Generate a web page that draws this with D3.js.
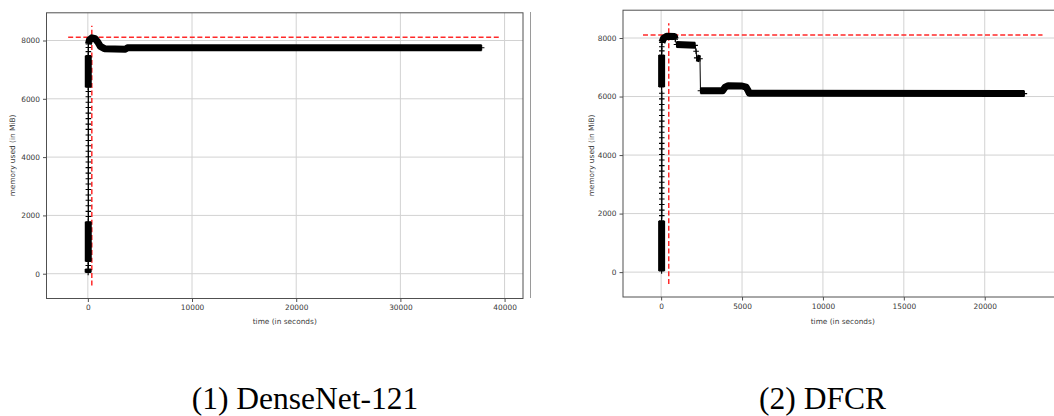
<!DOCTYPE html>
<html>
<head>
<meta charset="utf-8">
<script src="https://cdn.jsdelivr.net/npm/d3@7/dist/d3.min.js"></script>
<style>
  html, body { margin: 0; padding: 0; background: #fff; }
  svg { display: block; }
</style>
</head>
<body>
<svg id="chart" width="1054" height="416"></svg>
<script>
// ---------------- DATA ----------------
// (1) DenseNet-121 : memory used (MiB) vs time (s)
const dnTime = [30, 30, 40, 40, 40, 50, 50, 50, 50, 50, 50, 50, 50, 50, 50, 50, 50, 50, 50, 50, 50, 50, 50, 50, 50, 50, 50, 50, 50, 40, 40, 50, 50, 60, 150, 380, 700, 950, 1200, 1600, 3600, 3800, 37800];
const dnMem  = [40, 160, 280, 420, 1780, 1960, 2140, 2330, 2520, 2700, 2890, 3080, 3260, 3450, 3640, 3830, 4010, 4200, 4390, 4570, 4760, 4950, 5130, 5320, 5510, 5700, 5880, 6070, 6250, 6400, 7480, 7620, 7760, 7880, 8020, 8090, 8060, 7950, 7800, 7720, 7700, 7750, 7750];
// 1 = densely sampled from this point to the next one
const dnDense = [1, 0, 0, 1, 0, 0, 0, 0, 0, 0, 0, 0, 0, 0, 0, 0, 0, 0, 0, 0, 0, 0, 0, 0, 0, 0, 0, 0, 0, 1, 0, 0, 0, 1, 1, 1, 1, 1, 1, 1, 1, 1, 0];
const dnPeakMem = 8110;
const dnPeakTime = 380;
const dnXTicks = [0, 10000, 20000, 30000, 40000];

// (2) DFCR
const dfTime = [30, 30, 40, 40, 40, 40, 40, 40, 40, 40, 40, 40, 40, 40, 40, 40, 40, 40, 40, 40, 40, 40, 40, 40, 40, 30, 30, 40, 40, 50, 150, 350, 820, 870, 950, 2100, 2160, 2200, 2400, 2430, 3800, 3950, 4150, 5000, 5250, 5350, 5450, 22450];
const dfMem  = [40, 1750, 1930, 2120, 2310, 2500, 2690, 2880, 3070, 3260, 3450, 3640, 3830, 4020, 4210, 4400, 4590, 4780, 4970, 5160, 5350, 5540, 5730, 5920, 6110, 6330, 7420, 7560, 7700, 7850, 7990, 8060, 8050, 7960, 7780, 7750, 7550, 7320, 7290, 6200, 6200, 6320, 6370, 6360, 6320, 6230, 6110, 6100];
const dfDense = [1, 0, 0, 0, 0, 0, 0, 0, 0, 0, 0, 0, 0, 0, 0, 0, 0, 0, 0, 0, 0, 0, 0, 0, 0, 1, 0, 0, 0, 1, 1, 1, 1, 0, 1, 0, 0, 1, 0, 1, 1, 1, 1, 1, 1, 1, 1, 0];
const dfPeakMem = 8100;
const dfPeakTime = 470;
const dfXTicks = [0, 5000, 10000, 15000, 20000];

const yTicks = [0, 2000, 4000, 6000, 8000];
const captions = ["(1) DenseNet-121", "(2) DFCR"];
const xLabel = "time (in seconds)";
const yLabel = "memory used (in MiB)";

// ---------------- LAYOUT ----------------
const panels = [
  { time: dnTime, mem: dnMem, dense: dnDense, peakMem: dnPeakMem, peakTime: dnPeakTime, xTicks: dnXTicks,
    x0: 46.5, x1: 523, y0: 298.5, y1: 12.8, yLabelX: 12.5, caption: captions[0], capX: 305 },
  { time: dfTime, mem: dfMem, dense: dfDense, peakMem: dfPeakMem, peakTime: dfPeakTime, xTicks: dfXTicks,
    x0: 623, x1: 1062.5, y0: 297, y1: 10.2, yLabelX: 591.5, caption: captions[1], capX: 822.5 }
];

const svg = d3.select("#chart");
const tickFont = "DejaVu Sans, sans-serif";

// separator line between the two screenshots
svg.append("line").attr("x1", 530.5).attr("x2", 530.5).attr("y1", 12).attr("y2", 298)
  .attr("stroke", "#9a9a9a").attr("stroke-width", 1);

panels.forEach((p, pi) => {
  const maxT = d3.max(p.time);
  // dashed reference lines extents (5% beyond data), axes pad 5% beyond those
  const hx0 = -0.05 * maxT, hx1 = 1.05 * maxT;
  const vy0 = -0.05 * 8100, vy1 = 1.05 * 8100;
  const padX = 0.05 * (hx1 - hx0), padY = 0.05 * (vy1 - vy0);
  const x = d3.scaleLinear().domain([hx0 - padX, hx1 + padX]).range([p.x0, p.x1]);
  const y = d3.scaleLinear().domain([vy0 - padY, vy1 + padY]).range([p.y0, p.y1]);

  const g = svg.append("g");
  const clipId = "clip" + pi;
  svg.append("clipPath").attr("id", clipId).append("rect")
    .attr("x", p.x0).attr("y", p.y1).attr("width", p.x1 - p.x0).attr("height", p.y0 - p.y1);

  // grid
  const grid = g.append("g");
  p.xTicks.forEach(t => grid.append("line")
    .attr("x1", x(t)).attr("x2", x(t)).attr("y1", p.y0).attr("y2", p.y1)
    .attr("stroke", "#d2d2d2").attr("stroke-width", 1));
  yTicks.forEach(t => grid.append("line")
    .attr("x1", p.x0).attr("x2", p.x1).attr("y1", y(t)).attr("y2", y(t))
    .attr("stroke", "#d2d2d2").attr("stroke-width", 1));

  const plot = g.append("g").attr("clip-path", `url(#${clipId})`);

  // red dashed reference lines
  plot.append("line").attr("x1", x(hx0)).attr("x2", x(hx1)).attr("y1", y(p.peakMem)).attr("y2", y(p.peakMem))
    .attr("stroke", "#ff2a2a").attr("stroke-width", 1.5).attr("stroke-dasharray", "5,2.6");
  plot.append("line").attr("x1", x(p.peakTime)).attr("x2", x(p.peakTime)).attr("y1", y(vy0)).attr("y2", y(vy1))
    .attr("stroke", "#ff2a2a").attr("stroke-width", 1.5).attr("stroke-dasharray", "5,2.6");

  const pts = p.time.map((t, i) => ({ t, m: p.mem[i], d: p.dense[i] }));
  const line = d3.line().x(d => x(d.t)).y(d => y(d.m));

  // dense sample runs drawn as a thick band of overlapping markers
  const runs = [];
  let cur = null;
  pts.forEach((d, i) => {
    if (d.d && i < pts.length - 1) {
      if (!cur) { cur = [d]; runs.push(cur); }
      cur.push(pts[i + 1]);
    } else {
      cur = null;
    }
  });
  runs.forEach(r => plot.append("path").attr("d", line(r))
    .attr("fill", "none").attr("stroke", "#000").attr("stroke-width", 7)
    .attr("stroke-linejoin", "round").attr("stroke-linecap", "butt"));

  // thin connecting line
  plot.append("path").attr("d", line(pts)).attr("fill", "none")
    .attr("stroke", "#000").attr("stroke-width", 1);

  // '+' markers
  const ms = 2.8;
  plot.append("g").selectAll("path").data(pts).join("path")
    .attr("d", d => `M${x(d.t) - ms},${y(d.m)}H${x(d.t) + ms}M${x(d.t)},${y(d.m) - ms}V${y(d.m) + ms}`)
    .attr("stroke", "#000").attr("stroke-width", 1.1).attr("fill", "none");

  // frame
  g.append("rect").attr("x", p.x0).attr("y", p.y1).attr("width", p.x1 - p.x0).attr("height", p.y0 - p.y1)
    .attr("fill", "none").attr("stroke", "#505050").attr("stroke-width", 1);

  // axes
  const xa = g.append("g").attr("transform", `translate(0,${p.y0})`)
    .call(d3.axisBottom(x).tickValues(p.xTicks).tickFormat(d3.format("d")).tickSize(3.5).tickPadding(3));
  const ya = g.append("g").attr("transform", `translate(${p.x0},0)`)
    .call(d3.axisLeft(y).tickValues(yTicks).tickFormat(d3.format("d")).tickSize(3.5).tickPadding(3));
  [xa, ya].forEach(a => {
    a.select(".domain").remove();
    a.selectAll("line").attr("stroke", "#505050");
    a.selectAll("text").attr("font-family", tickFont).attr("font-size", 7.4).attr("fill", "#3a3a3a");
  });

  // axis labels
  g.append("text").attr("x", (p.x0 + p.x1) / 2).attr("y", 324.2).attr("text-anchor", "middle")
    .attr("font-family", tickFont).attr("font-size", 7.4).attr("fill", "#3a3a3a").text(xLabel);
  g.append("text").attr("transform", `translate(${p.yLabelX + 2.6},155.5) rotate(-90)`)
    .attr("text-anchor", "middle").attr("font-family", tickFont).attr("font-size", 7.4)
    .attr("fill", "#3a3a3a").text(yLabel);

  // caption
  svg.append("text").attr("x", p.capX).attr("y", 409).attr("text-anchor", "middle")
    .attr("font-family", "'Liberation Serif', 'Times New Roman', serif").attr("font-size", 31.5)
    .attr("fill", "#000").text(p.caption);
});
</script>
</body>
</html>
